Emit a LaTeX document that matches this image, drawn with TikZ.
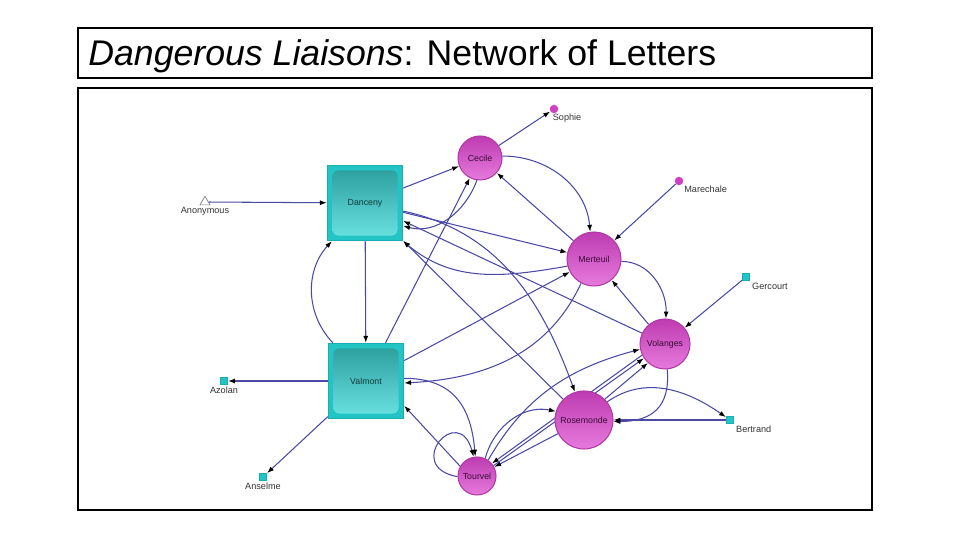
\documentclass[tikz,border=0pt]{standalone}
\usepackage{fontspec}
\setmainfont{Liberation Sans}
\usetikzlibrary{arrows.meta,shapes.geometric,backgrounds}
\definecolor{edgeblue}{HTML}{4A4AA6}
\definecolor{tealedge}{HTML}{17AFAF}
\definecolor{tealfill}{HTML}{22C4C4}
\definecolor{tealtop}{HTML}{2A9C9C}
\definecolor{tealbot}{HTML}{6CE4E4}
\definecolor{magedge}{HTML}{B238A6}
\definecolor{magtop}{HTML}{BE3CB2}
\definecolor{magbot}{HTML}{E67ADC}
\definecolor{magdot}{HTML}{D040C4}
\definecolor{labelgray}{HTML}{333333}
\definecolor{inkteal}{HTML}{123A3A}
\definecolor{inkmag}{HTML}{3A0A36}

\begin{document}
\begin{tikzpicture}[x=0.02cm,y=0.02cm,
  lead/.style={rectangle,minimum size=1.5cm,inner sep=0pt,draw=tealedge,line width=0.8pt,
    fill=tealfill,text=inkteal,font=\fontsize{5}{6}\selectfont,
    path picture={\shade[top color=tealtop,bottom color=tealbot,rounded corners=3.4pt]
      ([shift={(2.8pt,-2.8pt)}]path picture bounding box.north west) rectangle
      ([shift={(-2.8pt,2.8pt)}]path picture bounding box.south east);}},
  player/.style={circle,inner sep=0pt,draw=magedge,line width=0.6pt,top color=magtop,
    bottom color=magbot,text=inkmag,font=\fontsize{5}{6}\selectfont},
  minorsq/.style={rectangle,minimum size=0.15cm,inner sep=0pt,fill=tealfill,draw=tealedge,line width=0.4pt},
  minordot/.style={circle,minimum size=0.17cm,inner sep=0pt,fill=magdot},
  anon/.style={regular polygon,regular polygon sides=3,minimum size=0.23cm,inner sep=0pt,
    draw=gray,fill=white,line width=0.4pt},
  lbl/.style={font=\fontsize{5.2}{6}\selectfont,text=labelgray,inner sep=1pt},
  frame/.style={draw=black,line width=1.1pt},
  arrow/.style={-{Latex[length=3.9pt,width=2.8pt,color=black]},line width=0.6pt,draw=edgeblue}
]
\node[anchor=base west,inner sep=0pt,font=\fontsize{20.3}{24}\selectfont] (title) at (88,474)
  {\textit{Dangerous Liaisons}: Network of Letters};
\node[lead] (danceny) at (365,337) {Danceny};
\node[lead] (valmont) at (366,159) {Valmont};
\node[anon,label={[lbl]below:Anonymous}] (anonymous) at (205,338) {};
\node[player,minimum size=0.88cm] (cecile) at (480,382) {Cecile};
\node[player,minimum size=1.08cm] (merteuil) at (594,281) {Merteuil};
\node[player,minimum size=1.0cm] (volanges) at (665,196) {Volanges};
\node[player,minimum size=1.16cm] (rosemonde) at (584,120) {Rosemonde};
\node[player,minimum size=0.76cm] (tourvel) at (477,64) {Tourvel};
\node[minordot,label={[lbl,anchor=north west]south west:Sophie}] (sophie) at (554,431) {};
\node[minordot,label={[lbl,anchor=north west]south east:Marechale}] (marechale) at (679,359) {};
\node[minorsq,label={[lbl,anchor=north west]south east:Gercourt}] (gercourt) at (746,263) {};
\node[minorsq,label={[lbl,anchor=north west]south east:Bertrand}] (bertrand) at (730,120) {};
\node[minorsq,label={[lbl]below:Azolan}] (azolan) at (224,159) {};
\node[minorsq,label={[lbl]below:Anselme}] (anselme) at (263,63) {};
\begin{scope}[on background layer]
\fill[white] (0,0) rectangle (960,540);
\draw[frame] (78,512) rectangle (872,462);
\draw[frame] (78,452) rectangle (872,30);
\draw[arrow] (anonymous) -- (danceny);
\draw[arrow] (danceny) -- (cecile);
\draw[arrow] (cecile) -- (sophie);
\draw[arrow] (marechale) -- (merteuil);
\draw[arrow] (gercourt) -- (volanges);
\draw[arrow] (bertrand) -- (rosemonde);
\draw[arrow] (valmont) -- (azolan);
\draw[arrow] (valmont) -- (anselme);
\draw[arrow] (danceny) -- (valmont);
\draw[arrow] (valmont.131) to[bend left=43] (danceny.229);
\draw[arrow] (valmont) -- (cecile);
\draw[arrow] (cecile.262) to[out=250,in=-15] (danceny.-31);
\draw[arrow] (danceny) -- (merteuil);
\draw[arrow] (cecile.5) to[out=0,in=95] (merteuil.98);
\draw[arrow] (merteuil) -- (cecile);
\draw[arrow] (merteuil.195) to[out=190,in=-40] (danceny.-45);
\draw[arrow] (valmont) -- (merteuil);
\draw[arrow] (merteuil.242) to[out=245,in=3] (valmont.-3);
\draw[arrow] (valmont.4) to[out=0,in=95,looseness=1.2] (tourvel.95);
\draw[arrow] (tourvel.150) -- (valmont.-33);
\draw[arrow] (tourvel.182) .. controls +(-55,10) and +(-15,55) .. (tourvel.100);
\draw[arrow] (tourvel.65) to[out=75,in=168] (rosemonde.163);
\draw[arrow] (tourvel.55) to[out=60,in=195] (volanges.192);
\draw[arrow] (rosemonde) -- (tourvel);
\draw[arrow] (tourvel.32) -- (volanges.214);
\draw[arrow] (volanges.206) -- (tourvel.40);
\draw[arrow] (rosemonde.45) -- (volanges.228);
\draw[arrow] (volanges.-85) to[out=-85,in=0,looseness=1.3] (rosemonde.-3);
\draw[arrow] (rosemonde.38) to[out=35,in=145] (bertrand);
\draw[arrow] (merteuil.-5) to[out=0,in=88] (volanges.88);
\draw[arrow] (volanges) -- (merteuil);
\draw[arrow] (volanges) -- (danceny);
\draw[arrow] (danceny.-12) to[out=-12,in=110] (rosemonde.108);
\draw[arrow] (rosemonde) -- (danceny);
\end{scope}
\end{tikzpicture}
\end{document}
